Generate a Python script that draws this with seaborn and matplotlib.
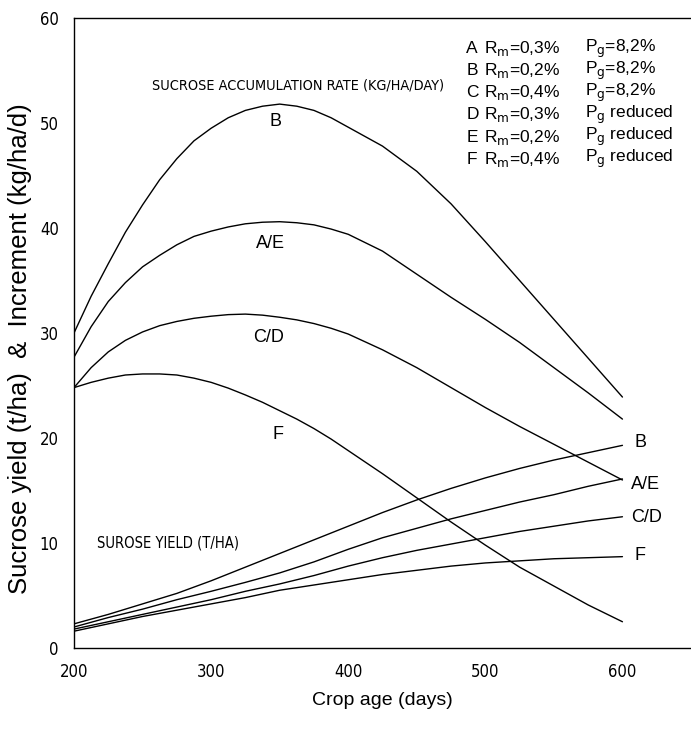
import matplotlib
matplotlib.use("Agg")
import matplotlib.pyplot as plt
import seaborn as sns
import pandas as pd

# crop age (days) for the accumulation-rate curves
rate_days = [200, 212.5, 225, 237.5, 250, 262.5, 275, 287.5, 300, 312.5, 325, 337.5, 350,
             362.5, 375, 387.5, 400, 425, 450, 475, 500, 525, 550, 575, 600]

# sucrose accumulation rate (kg/ha/day)
rate_B = [30.0, 33.5, 36.6, 39.6, 42.2, 44.6, 46.6, 48.3, 49.5, 50.5, 51.2, 51.6, 51.8,
          51.6, 51.2, 50.5, 49.6, 47.8, 45.4, 42.3, 38.7, 35.0, 31.3, 27.6, 23.9]
rate_AE = [27.7, 30.6, 33.0, 34.8, 36.3, 37.4, 38.4, 39.2, 39.7, 40.1, 40.4, 40.55, 40.6,
           40.5, 40.3, 39.9, 39.4, 37.8, 35.6, 33.4, 31.3, 29.1, 26.7, 24.3, 21.8]
rate_CD = [24.8, 26.7, 28.2, 29.3, 30.1, 30.7, 31.1, 31.4, 31.6, 31.75, 31.8, 31.7, 31.5,
           31.25, 30.9, 30.45, 29.9, 28.4, 26.7, 24.8, 22.9, 21.1, 19.4, 17.7, 16.0]
rate_F = [24.8, 25.3, 25.7, 26.0, 26.1, 26.1, 26.0, 25.7, 25.3, 24.75, 24.1, 23.4, 22.6,
          21.8, 20.9, 19.9, 18.8, 16.6, 14.3, 12.0, 9.8, 7.7, 5.9, 4.1, 2.5]

# crop age (days) for the yield curves
yield_days = [200, 225, 250, 275, 300, 325, 350, 375, 400, 425, 450, 475, 500, 525, 550, 575, 600]

# sucrose yield (t/ha)
yield_B = [2.3, 3.2, 4.2, 5.2, 6.4, 7.7, 9.0, 10.3, 11.6, 12.9, 14.1, 15.2, 16.2, 17.1, 17.9, 18.6, 19.3]
yield_AE = [2.0, 2.9, 3.7, 4.6, 5.4, 6.25, 7.15, 8.2, 9.4, 10.5, 11.4, 12.3, 13.1, 13.9, 14.6, 15.4, 16.1]
yield_CD = [1.8, 2.5, 3.2, 3.9, 4.6, 5.4, 6.1, 6.9, 7.8, 8.6, 9.3, 9.9, 10.5, 11.1, 11.6, 12.1, 12.5]
yield_F = [1.6, 2.3, 3.0, 3.6, 4.2, 4.8, 5.5, 6.0, 6.5, 7.0, 7.4, 7.8, 8.1, 8.3, 8.5, 8.6, 8.7]

curve_names = ["B", "A/E", "C/D", "F"]

legend_lines = [
    ("A", "0,3%", "=8,2%"),
    ("B", "0,2%", "=8,2%"),
    ("C", "0,4%", "=8,2%"),
    ("D", "0,3%", " reduced"),
    ("E", "0,2%", " reduced"),
    ("F", "0,4%", " reduced"),
]

rows = []
for name, vals in zip(curve_names, [rate_B, rate_AE, rate_CD, rate_F]):
    for d, v in zip(rate_days, vals):
        rows.append({"day": d, "value": v, "curve": "rate " + name})
for name, vals in zip(curve_names, [yield_B, yield_AE, yield_CD, yield_F]):
    for d, v in zip(yield_days, vals):
        rows.append({"day": d, "value": v, "curve": "yield " + name})
df = pd.DataFrame(rows)

sns.set_style("white")
plt.rcParams['font.family'] = ['Liberation Sans', 'DejaVu Sans']
plt.rcParams['text.color'] = 'black'
plt.rcParams['axes.labelcolor'] = 'black'
plt.rcParams['xtick.color'] = 'black'
plt.rcParams['ytick.color'] = 'black'
narrow = dict(family=['DejaVu Sans'], stretch='condensed')

fig = plt.figure(figsize=(6.91, 7.30), dpi=100)
ax = fig.add_axes([74 / 691, 82 / 730, 617 / 691, 630 / 730])

sns.lineplot(data=df, x="day", y="value", units="curve", estimator=None,
             color="black", linewidth=1.0, ax=ax)

ax.set_xlim(200, 650)
ax.set_ylim(0, 60)
ax.set_xticks([200, 300, 400, 500, 600])
ax.set_xticks([250, 350, 450, 550], minor=True)
ax.set_yticks(range(0, 61, 10))
ax.tick_params(axis="both", which="both", direction="out", length=6, width=0.9,
               labelsize=12, pad=5)
for lab in ax.get_xticklabels() + ax.get_yticklabels():
    lab.set_family('DejaVu Sans')
    lab.set_stretch('condensed')

for side in ["left", "bottom", "top"]:
    ax.spines[side].set_color("black")
    ax.spines[side].set_linewidth(1.0)
ax.spines["right"].set_visible(False)

ax.set_xlabel("Crop age (days)", fontsize=14, labelpad=8)
ax.set_ylabel("Sucrose yield (t/ha)  &  Increment (kg/ha/d)", fontsize=18.5)
ax.yaxis.set_label_coords(-0.068, 0.475)

# curve labels
ax.text(347, 50.1, "B", fontsize=13, ha="center", va="center")
ax.text(343, 38.5, "A/E", fontsize=13, ha="center", va="center")
ax.text(342, 29.6, "C/D", fontsize=13, ha="center", va="center")
ax.text(349, 20.3, "F", fontsize=13, ha="center", va="center")

for name, v in zip(curve_names, [19.6, 15.6, 12.4, 8.8]):
    x0 = 606 if name in ("A/E", "C/D") else 609
    ax.text(x0, v, name, fontsize=13, ha="left", va="center")

ax.text(257, 53.6, "SUCROSE ACCUMULATION RATE (KG/HA/DAY)", fontsize=10.4,
        ha="left", va="center", **narrow)
ax.text(217, 10.0, "SUROSE YIELD (T/HA)", fontsize=10.6,
        ha="left", va="center", **narrow)

# legend block
for i, (letter, rm, pg) in enumerate(legend_lines):
    y = 57.1 - i * 2.11
    ax.text(486, y, letter, fontsize=12.5, ha="left", va="center")
    ax.text(499, y, r"R$_\mathrm{m}$=" + rm, fontsize=12.5, ha="left", va="center")
    ax.text(573, y, r"P$_\mathrm{g}$" + pg, fontsize=12.5, ha="left", va="center")

fig.savefig("out.png", dpi=100, facecolor="white")
